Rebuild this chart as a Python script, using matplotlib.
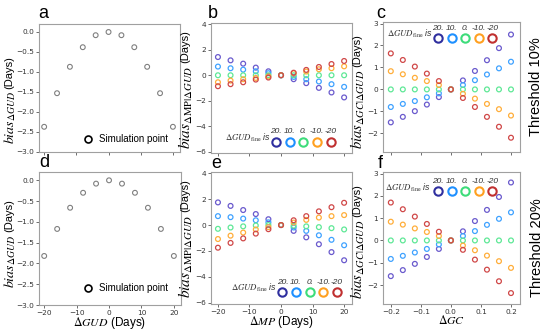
import matplotlib
matplotlib.use("Agg")
import matplotlib.pyplot as plt
from matplotlib.lines import Line2D

plt.rcParams["mathtext.fontset"] = "stix"
plt.rcParams["font.family"] = ["DejaVu Sans"]

# --- data -------------------------------------------------------------
shift_days = [-20, -16, -12, -8, -4, 0, 4, 8, 12, 16, 20]
shift_gc = [-0.2, -0.16, -0.12, -0.08, -0.04, 0.0, 0.04, 0.08, 0.12, 0.16, 0.2]

fine_labels = ["20.", "10.", "0.", "-10.", "-20"]

bias_gud_10 = [-2.37, -1.53, -0.87, -0.38, -0.08, 0.0, -0.08, -0.38, -0.87, -1.53, -2.37]
bias_gud_20 = [-1.82, -1.17, -0.66, -0.30, -0.08, 0.0, -0.08, -0.30, -0.66, -1.17, -1.82]

# rows: dGUD_fine = 20, 10, 0, -10, -20
bias_mp_10 = [
    [1.43, 1.17, 0.91, 0.60, 0.31, 0.0, -0.31, -0.62, -0.99, -1.35, -1.74],
    [0.68, 0.55, 0.44, 0.31, 0.16, 0.0, -0.13, -0.31, -0.49, -0.70, -0.91],
    [0.0, 0.0, 0.0, 0.0, 0.0, 0.0, 0.0, 0.0, 0.0, 0.0, 0.0],
    [-0.55, -0.42, -0.31, -0.21, -0.10, 0.0, 0.16, 0.29, 0.47, 0.55, 0.70],
    [-0.86, -0.70, -0.55, -0.34, -0.18, 0.0, 0.20, 0.42, 0.65, 0.88, 1.12],
]
bias_mp_20 = [
    [1.75, 1.48, 1.16, 0.85, 0.45, 0.0, -0.45, -0.95, -1.48, -2.09, -2.72],
    [0.69, 0.61, 0.50, 0.37, 0.21, 0.0, -0.19, -0.45, -0.79, -1.14, -1.56],
    [-0.29, -0.19, -0.10, -0.03, 0.0, 0.0, -0.05, -0.10, -0.16, -0.24, -0.34],
    [-1.08, -0.82, -0.58, -0.34, -0.16, 0.0, 0.19, 0.40, 0.58, 0.69, 0.77],
    [-1.75, -1.38, -1.03, -0.66, -0.32, 0.0, 0.37, 0.69, 1.06, 1.38, 1.72],
]
bias_gc_10 = [
    [-1.50, -1.25, -0.99, -0.69, -0.35, 0.0, 0.41, 0.84, 1.33, 1.88, 2.50],
    [-0.80, -0.66, -0.53, -0.36, -0.18, 0.0, 0.20, 0.42, 0.68, 0.96, 1.26],
    [0.0, 0.0, 0.0, 0.0, 0.0, 0.0, 0.0, 0.0, 0.0, 0.0, 0.0],
    [0.83, 0.69, 0.53, 0.38, 0.20, 0.0, -0.20, -0.42, -0.66, -0.90, -1.19],
    [1.64, 1.34, 1.04, 0.72, 0.38, 0.0, -0.39, -0.80, -1.25, -1.70, -2.20],
]
bias_gc_20 = [
    [-1.60, -1.33, -1.05, -0.74, -0.38, 0.0, 0.41, 0.87, 1.37, 1.95, 2.60],
    [-0.83, -0.69, -0.54, -0.38, -0.18, 0.0, 0.20, 0.42, 0.70, 0.97, 1.26],
    [0.0, 0.0, 0.0, 0.0, 0.0, 0.0, 0.0, 0.0, 0.0, 0.0, 0.0],
    [0.84, 0.71, 0.54, 0.38, 0.20, 0.0, -0.23, -0.44, -0.68, -0.93, -1.23],
    [1.70, 1.40, 1.07, 0.74, 0.39, 0.0, -0.42, -0.86, -1.31, -1.83, -2.36],
]

point_colors = ["#6a5acd", "#3fa2ff", "#5ee896", "#ffae3a", "#d04848"]
legend_colors = ["#2f2f9f", "#1e90ff", "#3ddc7a", "#ffa020", "#c03030"]

W, H = 550, 334
fig = plt.figure(figsize=(W / 100, H / 100), dpi=100)


def box(l, r, t, b):
    return [l / W, 1 - b / H, (r - l) / W, (b - t) / H]


def style(ax, show_x):
    for s in ax.spines.values():
        s.set_color("#a0a0a0")
        s.set_linewidth(0.8)
    ax.tick_params(length=2.5, width=0.6, colors="#555555", labelsize=5.3,
                   labelcolor="#333333", pad=1.0)
    if not show_x:
        ax.tick_params(axis="x", labelbottom=False)


def ylabel_days(ax, math, x, y, size=11):
    # big italic math part, smaller "(Days)" stacked above it
    ax.set_ylabel(math, fontsize=size)
    ax.yaxis.label.set_horizontalalignment("left")
    ax.yaxis.set_label_coords(x, y)
    ax.annotate("(Days)", xy=(0.45, 1.0), xycoords=ax.yaxis.label,
                xytext=(0, 2), textcoords="offset points", rotation=90,
                ha="center", va="bottom", fontsize=8, family="Liberation Sans")


def sim_panel(ax, y, show_x, leg_y):
    ax.scatter(shift_days, y, s=12, facecolors="none", edgecolors="#808080", linewidths=0.8)
    ax.set_xlim(-21.6, 22.2)
    ax.set_ylim(-3.0, 0.2)
    ax.set_xticks([-20, -10, 0, 10, 20])
    ax.set_yticks([0.0, -0.5, -1.0, -1.5, -2.0, -2.5, -3.0])
    h = Line2D([], [], ls="none", marker="o", ms=5, mfc="none", mec="black", mew=1.2)
    ax.legend([h], ["Simulation point"], loc="lower left", bbox_to_anchor=(0.25, leg_y),
              frameon=False, prop={"family": "Liberation Sans", "size": 7},
              handletextpad=0.1, borderaxespad=0)
    style(ax, show_x)


def fine_legend(ax, anchor, text_xy):
    handles = [Line2D([], [], ls="none", marker="o", ms=6, mfc="none", mec=c, mew=1.5)
               for c in legend_colors]
    leg = ax.legend(handles, [""] * 5, ncol=5, loc="center", bbox_to_anchor=anchor,
                    frameon=False, fontsize=7, handlelength=1.0, handletextpad=0,
                    columnspacing=0.4, borderaxespad=0, borderpad=0)
    ax.text(text_xy[0], text_xy[1], r"$\Delta GUD_{\rm fine}$ is", transform=ax.transAxes,
            fontsize=6.3, style="italic", family="Liberation Sans", color="#333333",
            ha="left", va="center")
    return leg


def bias_panel(ax, x, rows):
    for ys, c in zip(rows, point_colors):
        ax.scatter(x, ys, s=12, facecolors="none", edgecolors=c, linewidths=0.9)


legends = []

# a
ax_a = fig.add_axes(box(39, 180, 24, 152))
sim_panel(ax_a, bias_gud_10, False, 0.03)
ylabel_days(ax_a, r"$bias_{\Delta GUD}$", -0.15, 0.06, size=10)

# d
ax_d = fig.add_axes(box(39, 181, 172, 305))
sim_panel(ax_d, bias_gud_20, True, 0.06)
ylabel_days(ax_d, r"$bias_{\Delta GUD}$", -0.15, 0.13, size=10)
ax_d.set_xlabel(r"$\Delta GUD$ (Days)", fontsize=8.5, family="Liberation Sans", labelpad=-0.5)

# b, e
for axb, rows, show_x, anc, txy, lab_y in [
    (box(211, 352, 23, 153), bias_mp_10, False, (0.655, 0.085), (0.10, 0.12), 0.03),
    (box(211, 352, 172, 304), bias_mp_20, True, (0.70, 0.09), (0.14, 0.125), 0.045),
]:
    ax = fig.add_axes(axb)
    bias_panel(ax, shift_days, rows)
    ax.set_xlim(-22.2, 22.5)
    ax.set_ylim(-6.1, 4.1)
    ax.set_xticks([-20, -10, 0, 10, 20])
    ax.set_yticks([-6, -4, -2, 0, 2, 4])
    ylabel_days(ax, r"$bias_{\Delta \mathrm{MP}|\Delta GUD}$", -0.11, lab_y)
    style(ax, show_x)
    legends.append((ax, fine_legend(ax, anc, txy)))
    if show_x:
        ax.set_xlabel(r"$\Delta MP$ (Days)", fontsize=8.5, family="Liberation Sans", labelpad=-0.5)

# c, f
for axb, rows, show_x, anc, txy, lab_y in [
    (box(383, 520, 22, 152), bias_gc_10, False, (0.60, 0.87), (0.03, 0.905), 0.02),
    (box(383, 520, 172, 304), bias_gc_20, True, (0.60, 0.85), (0.015, 0.88), 0.04),
]:
    ax = fig.add_axes(axb)
    bias_panel(ax, shift_gc, rows)
    ax.set_xlim(-0.226, 0.23)
    ax.set_ylim(-2.85, 3.07)
    ax.set_xticks([-0.2, -0.1, 0.0, 0.1, 0.2])
    ax.set_yticks([-2, -1, 0, 1, 2, 3])
    ylabel_days(ax, r"$bias_{\Delta GC|\Delta GUD}$", -0.115, lab_y, size=10.5)
    style(ax, show_x)
    legends.append((ax, fine_legend(ax, anc, txy)))
    if show_x:
        ax.set_xlabel(r"$\Delta GC$", fontsize=8.5, labelpad=-0.5)

# labels above the legend circles
fig.canvas.draw()
renderer = fig.canvas.get_renderer()
for ax, leg in legends:
    for h, lab in zip(leg.legend_handles, fine_labels):
        bb = h.get_window_extent(renderer)
        cx, top = bb.x0 + bb.width / 2, bb.y1
        fx, fy = fig.transFigure.inverted().transform((cx, top + 2))
        fig.text(fx, fy, lab, fontsize=6, style="italic", family="Liberation Sans",
                 color="#333333", ha="center", va="bottom")

# panel letters
for lab, x, y in [("a", 38, 18), ("b", 208, 18), ("c", 376, 18),
                  ("d", 39, 167), ("e", 211, 168), ("f", 378, 168)]:
    fig.text(x / W, 1 - y / H, lab, fontsize=13, family="Liberation Sans")

fig.text(536 / W, 1 - 87 / H, "Threshold 10%", rotation=90, fontsize=10.5,
         family="Liberation Sans", ha="center", va="center")
fig.text(537 / W, 1 - 248 / H, "Threshold 20%", rotation=90, fontsize=10.5,
         family="Liberation Sans", ha="center", va="center")

fig.savefig("out.png", dpi=100)
